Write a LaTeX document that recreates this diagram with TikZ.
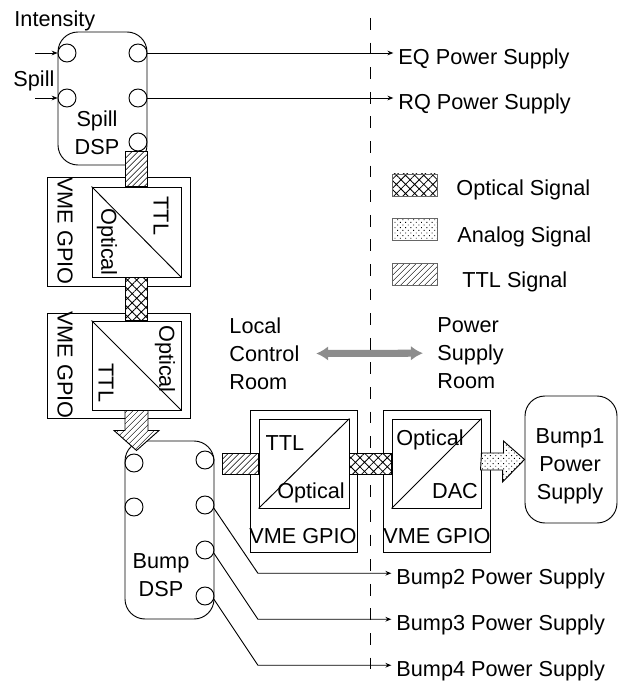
\documentclass[tikz,border=0pt]{standalone}
\usepackage{fontspec}
\setmainfont{Liberation Sans}
\usetikzlibrary{positioning,arrows.meta,patterns.meta,calc}
\tikzset{
  txt/.style={font=\fontsize{18.5}{24}\selectfont, inner sep=0pt},
  dsp/.style={draw, rounded corners=0.6cm, inner sep=0pt},
  port/.style={circle, draw, minimum size=0.54cm, inner sep=0pt},
  gpio/.style={draw, minimum width=#1, inner sep=0pt},
  conv/.style={draw, inner sep=0pt},
  sig/.style={-{Stealth[length=5pt,width=4pt]}, shorten >=4pt},
  ttlbar/.style={draw, preaction={fill=white},
                 pattern={Lines[angle=45,distance=4pt,line width=0.7pt]}},
  optbar/.style={draw, preaction={fill=white},
                 pattern={Hatch[angle=45,distance=5.5pt,line width=0.7pt]}},
  anabar/.style={draw, preaction={fill=white},
                 pattern={Dots[angle=45,distance=3.2pt,radius=0.55pt]}},
  legbox/.style={draw=black!60, line width=0.5pt, inner sep=0pt,
                 minimum width=1.35cm, minimum height=0.66cm},
  divider/.style={dash pattern=on 10pt off 11pt},
  roomarr/.style={{Latex[length=3.6mm,width=4.4mm]}-{Latex[length=3.6mm,width=4.4mm]},
                  line width=6pt, draw=black!45, shorten <=14pt, shorten >=12pt},
}
\begin{document}
\begin{tikzpicture}[x=0.03cm, y=-0.03cm, line width=0.8pt]
  \useasboundingbox (0,0) rectangle (621,681);

  % rooms
  \node[txt, align=left, anchor=north west] (lcr) at (229,317) {Local\\Control\\Room};
  \node[txt, align=left, anchor=north west] (psr) at (437,317) {Power\\Supply\\Room};
  \draw[roomarr] (lcr.east) -- (psr.west);
  \draw[divider] (370,18) -- (370,681);

  % spill dsp
  \node[dsp, minimum width=2.67cm, minimum height=3.99cm] (spill) at (102.5,98.5) {};
  \node[txt, align=center, anchor=north] (spilltxt) at (97,110) {Spill\\DSP};
  \node[port] (si1) at (67,53) {};
  \node[port] (si2) at (67,98) {};
  \foreach \n/\y in {1/53, 2/98, 3/142}
    \node[port] (so\n) at (138,\y) {};
  \node[txt, anchor=base west] (intens) at (14,27) {Intensity};
  \node[txt, anchor=base west] (spillin) at (13,87) {Spill};
  \coordinate (in1) at (35,53);
  \coordinate (in2) at (35,98);
  \draw[sig, shorten >=0pt] (in1) -- (si1.west);
  \draw[sig, shorten >=0pt] (in2) -- (si2.west);
  \node[txt, anchor=base west] (eq) at (398,65) {EQ Power Supply};
  \node[txt, anchor=base west] (rq) at (398,110) {RQ Power Supply};
  \draw[sig] (so1.east) -- (so1.east -| eq.west);
  \draw[sig] (so2.east) -- (so2.east -| rq.west);

  % vme gpio, local side
  \node[gpio=4.29cm, minimum height=3.27cm] (gpio1) at (118.5,231.5) {};
  \node[conv, minimum width=2.67cm, minimum height=2.7cm] (cv1) at (136.5,232) {};
  \draw (cv1.north west) -- (cv1.south east);
  \node[txt, rotate=-90] (ttl1) at (161,216) {TTL};
  \node[txt, rotate=-90] (opt1) at (107,242) {Optical};
  \node[txt, rotate=-90] (vme1) at (65,231) {VME GPIO};

  \node[gpio=4.29cm, minimum height=3.15cm] (gpio2) at (118.5,365.5) {};
  \node[conv, minimum width=2.67cm, minimum height=2.67cm] (cv2) at (136.5,365.5) {};
  \draw (cv2.north west) -- (cv2.south east);
  \node[txt, rotate=-90] (opt2) at (165,359) {Optical};
  \node[txt, rotate=-90] (ttl2) at (106,383) {TTL};
  \node[txt, rotate=-90] (vme2) at (65,365) {VME GPIO};

  % bump dsp
  \node[dsp, minimum width=2.67cm, minimum height=5.34cm] (bump) at (169.5,530) {};
  \node[txt, align=center, anchor=north] (bumptxt) at (161,553) {Bump\\DSP};
  \node[port] (bi1) at (134,463) {};
  \node[port] (bi2) at (134,507) {};
  \foreach \n/\y in {1/460, 2/505, 3/550, 4/596}
    \node[port] (bo\n) at (205,\y) {};

  % vme gpio, both rooms
  \node[gpio=3.21cm, minimum height=4.26cm] (gpio3) at (303.5,481) {};
  \node[conv, minimum width=2.7cm, minimum height=2.67cm] (cv3) at (304,463.5) {};
  \draw (cv3.south west) -- (cv3.north east);
  \node[txt, anchor=base] (ttl3) at (285,450) {TTL};
  \node[txt, anchor=base] (opt3) at (311,498) {Optical};
  \node[txt, anchor=base] (vme3) at (303,543) {VME GPIO};

  \node[gpio=3.21cm, minimum height=4.26cm] (gpio4) at (436.5,481) {};
  \node[conv, minimum width=2.67cm, minimum height=2.67cm] (cv4) at (436.5,463.5) {};
  \draw (cv4.south west) -- (cv4.north east);
  \node[txt, anchor=base] (opt4) at (430,445) {Optical};
  \node[txt, anchor=base] (dac4) at (455,498) {DAC};
  \node[txt, anchor=base] (vme4) at (437,543) {VME GPIO};

  \node[dsp, minimum width=2.76cm, minimum height=3.81cm] (bump1) at (571,459.5) {};
  \node[txt, align=center, anchor=north] (bump1txt) at (570,428) {Bump1\\Power\\Supply};

  % signal bars
  \draw[ttlbar] ($(so3.south)+(-13,0)$) rectangle ($(cv1.north -| so3.south)+(9,0)$);
  \draw[optbar] ($(cv1.south)+(-11.5,0)$) rectangle ($(cv2.north)+(10.5,0)$);
  \draw[ttlbar] ($(cv2.south)+(-11.5,0)$) -- ++(0,20) -- ++(-11,0) -- ++(22.5,20)
    -- ++(22.5,-20) -- ++(-11,0) -- ++(0,-20) -- cycle;
  \draw[ttlbar] ($(cv3.west)+(-36,-10.5)$) rectangle ($(cv3.west)+(0,10.5)$);
  \draw[optbar] ($(cv3.east)+(0,-10.5)$) rectangle ($(cv4.west)+(0,10.5)$);
  \draw[anabar] ($(cv4.east)+(0,-10.5)$) -- ++(22,0) -- ++(0,-12) -- (bump1.west)
    -- ++(-22,22.5) -- ++(0,-12) -- ++(-22,0) -- cycle;

  % bump outputs
  \node[txt, anchor=base west] (b2) at (396,584) {Bump2 Power Supply};
  \node[txt, anchor=base west] (b3) at (396,630) {Bump3 Power Supply};
  \node[txt, anchor=base west] (b4) at (396,676) {Bump4 Power Supply};
  \foreach \n/\dy in {2/65, 3/66, 4/66}
    \draw[sig] (bo\n.-20) -- ++(44,\dy) coordinate (k\n) -- (k\n -| b\n.west);

  % legend
  \node[legbox, optbar] (lgopt) at (414.5,185) {};
  \node[legbox, anabar] (lgana) at (414.5,229.5) {};
  \node[legbox, ttlbar] (lgttl) at (414.5,274.5) {};
  \node[txt, anchor=base west] (lgopttxt) at (456,195) {Optical Signal};
  \node[txt, anchor=base west] (lganatxt) at (457,242) {Analog Signal};
  \node[txt, anchor=base west] (lgttltxt) at (462,287) {TTL Signal};
\end{tikzpicture}
\end{document}
